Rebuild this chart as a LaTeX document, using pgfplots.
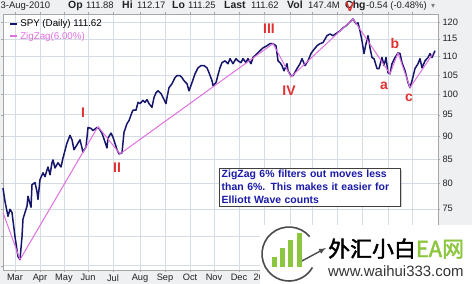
\documentclass[border=0pt]{standalone}
\usepackage{pgfplots}
\pgfplotsset{compat=1.18}
\usepackage{fontspec}
\setmainfont{Liberation Sans}
\newfontfamily\dejavu{DejaVu Sans}
\newfontfamily\cjk[AutoFakeBold=2]{Noto Sans CJK SC}
\usetikzlibrary{shadows}
\definecolor{price}{HTML}{15156A}
\definecolor{zz}{HTML}{E070E0}
\definecolor{wave}{HTML}{E03030}
\definecolor{gridc}{HTML}{D5DCE4}
\definecolor{bgc}{HTML}{EEF0F2}
\definecolor{note}{HTML}{1A1AA8}
\definecolor{wmgreen}{HTML}{8CC63F}
\definecolor{txt}{HTML}{222222}

\pgfplotstableread{
x y
3 79.0
5 76.4
8 73.6
10 74.9
12 74.3
15 69.9
18 66.5
20 66.0
22 69.9
23 73.1
27 75.5
28 77.4
31 75.3
32 79.7
35 80.1
37 78.3
38 76.8
40 80.7
43 82.1
45 81.3
47 82.7
48 83.3
50 81.7
52 84.2
53 84.8
55 83.1
58 84.2
61 83.3
63 85.2
67 88.5
70 90.2
72 89.2
74 87.0
77 88.1
80 89.2
83 86.5
86 87.6
88 92.0
91 91.8
93 91.3
97 92.0
99 91.8
102 90.7
105 88.7
107 87.4
108 89.6
111 90.7
113 89.8
117 87.0
119 86.1
122 86.3
124 90.9
127 92.9
129 93.6
132 95.6
133 96.1
136 96.1
138 98.0
140 97.7
143 98.5
145 98.0
147 98.7
149 97.7
152 96.8
154 99.2
156 100.4
158 100.9
161 100.2
163 99.2
166 97.7
167 99.2
169 101.7
172 102.7
175 104.3
177 104.8
180 104.8
182 104.3
184 103.5
187 102.7
189 100.9
192 103.0
195 105.3
198 106.9
201 107.5
204 107.5
207 106.9
209 105.6
212 103.5
213 102.2
216 103.0
218 105.0
220 106.9
222 108.3
225 108.8
228 108.0
230 109.4
233 108.0
236 109.4
238 108.8
241 108.3
243 109.4
246 108.3
248 109.4
251 108.0
253 109.7
257 110.8
260 111.6
263 112.4
267 113.0
270 113.6
273 113.6
276 113.0
278 108.8
280 108.3
282 107.5
284 106.1
287 108.0
288 106.1
291 104.8
293 104.8
297 106.7
300 108.0
302 109.4
305 107.5
308 108.8
311 110.8
313 111.6
317 113.0
320 113.6
323 113.9
327 115.9
330 116.4
333 115.9
337 116.7
340 117.3
343 118.2
346 118.8
348 119.4
351 120.3
353 120.9
356 119.4
358 119.7
360 117.3
362 114.4
364 110.8
366 113.6
368 115.9
369 114.4
370 112.4
372 109.7
374 109.4
377 106.7
379 106.7
382 109.7
384 107.5
386 109.7
388 105.6
390 105.3
392 108.0
395 109.7
398 111.0
400 110.8
402 108.3
405 106.1
408 103.0
410 101.7
412 103.5
415 106.7
418 108.0
420 109.4
422 106.9
425 108.8
428 109.7
430 110.8
432 109.7
435 111.6
}\pricetable

\pgfplotstableread{
x y
3 74.3
20 66.0
98 92.2
120 86.1
273 113.6
291 104.5
353 120.9
390 105.3
398 111.0
410 101.7
433 110.8
}\zztable

\tikzset{wavelbl/.style={text=wave, font=\bfseries\fontsize{14}{14}\selectfont}}

\begin{document}
\begin{tikzpicture}
\fill[bgc] (0,0) rectangle (472bp,284bp);
\useasboundingbox (0,0) rectangle (472bp,284bp);
\begin{axis}[
  at={(3bp,14bp)}, anchor=south west,
  scale only axis, width=435bp, height=256bp,
  xmin=3, xmax=438, ymode=log, ymin=64.3, ymax=122.4,
  axis background/.style={fill=white},
  axis line style={draw=gray!70, line width=0.5pt},
  grid=major, major grid style={gridc, line width=0.5pt},
  xtick={15,40,64,88,113,140,165,190,214,239,264,290,312,337,362,388,412},
  xticklabels={Mar,Apr,May,Jun,Jul,Aug,Sep,Oct,Nov,Dec,2010,,,,,,},
  ytick={65,70,75,80,85,90,95,100,105,110,115,120},
  yticklabels={,,75,80,85,90,95,100,105,110,115,120},
  yticklabel pos=right,
  tick align=outside, major tick length=2bp,
  tick style={draw=gray!70},
  minor tick num=0,
  ticklabel style={font=\fontsize{9.3}{10}\selectfont, text=txt},
  yticklabel style={xshift=-1bp},
  xticklabel style={yshift=1bp},
  clip=false,
  legend style={at={(0.008,0.995)}, anchor=north west, draw=none, fill=none,
     font=\fontsize{9.8}{10}\selectfont},
  legend cell align=left,
  legend image code/.code={\draw[#1, line width=1.6pt] (0bp,0bp) -- (7bp,0bp);},
]
\addplot[price, line width=1.5pt, line join=round] table[x=x,y=y] {\pricetable};
\addlegendentry{SPY (Daily) 111.62}
\addplot[zz, line width=1pt] table[x=x,y=y] {\zztable};
\addlegendentry{\textcolor{zz}{ZigZag(6.00\%)}}

\node[wavelbl] at (axis cs:83,95.4) {I};
\node[wavelbl] at (axis cs:117,83.1) {II};
\node[wavelbl] at (axis cs:269,117.9) {III};
\node[wavelbl] at (axis cs:289,100.9) {IV};
\node[wavelbl] at (axis cs:384,102.2) {a};
\node[wavelbl] at (axis cs:395,113.6) {b};
\node[wavelbl] at (axis cs:409,99.2) {c};

\node[anchor=north west, draw=black!75, fill=white, text=note,
  font=\bfseries\fontsize{10.5}{13}\selectfont, align=left,
  text width=176bp, inner xsep=2.5bp, inner ysep=2bp,
  drop shadow={shadow xshift=1.5bp, shadow yshift=-1.5bp, opacity=0.35}]
  at (axis cs:219,83.1) {ZigZag 6\% filters out moves less\\than 6\%. This makes it easier for\\Elliott Wave counts};
\end{axis}

% header
\tikzset{hdr/.style={anchor=base west, inner sep=0pt, text=txt, font=\fontsize{9.5}{10}\selectfont},
         hdrb/.style={anchor=base west, inner sep=0pt, text=txt, font=\bfseries\fontsize{10.5}{11}\selectfont}}
\node[hdr] at (0.5bp,275.5bp) {3-Aug-2010};
\node[hdrb] at (68bp,275.5bp) {Op};
\node[hdr] at (86bp,275.5bp) {111.88};
\node[hdrb] at (122bp,275.5bp) {Hi};
\node[hdr] at (137bp,275.5bp) {112.17};
\node[hdrb] at (172bp,275.5bp) {Lo};
\node[hdr] at (188bp,275.5bp) {111.25};
\node[hdrb] at (224bp,275.5bp) {Last};
\node[hdr] at (251bp,275.5bp) {111.62};
\node[hdrb] at (287bp,275.5bp) {Vol};
\node[hdr] at (308bp,275.5bp) {147.4M};
\node[hdrb] at (345bp,275.5bp) {Chg};
\node[hdr] at (366bp,275.5bp) {-0.54 (-0.48\%)};
\node[anchor=base west, inner sep=0pt, font=\dejavu\fontsize{8}{8}\selectfont, text=gray] at (431bp,275.5bp) {▾};
\node[text=wave, font=\bfseries\fontsize{13}{13}\selectfont] at (350bp,277bp) {V};

% watermark
\fill[white] (260bp,0) rectangle (472bp,59bp);
\draw[black!70, line width=1.6bp] (289bp,30bp) ++(40:27bp) arc[start angle=40, end angle=330, radius=27bp];
\draw[black!70, line width=1.4bp, -latex] (300bp,22bp) -- (326bp,36bp);
\fill[wmgreen] (272bp,17bp) rectangle (277bp,27bp);
\fill[wmgreen] (280bp,17bp) rectangle (285bp,36bp);
\fill[wmgreen] (288bp,17bp) rectangle (293bp,44bp);
\fill[wmgreen] (297bp,17bp) rectangle (302bp,51bp);
\node[anchor=base west, inner sep=0pt, font=\cjk\bfseries\fontsize{22}{22}\selectfont] at (328bp,27bp) {外汇小白\textcolor{wmgreen}{EA网}};
\node[anchor=base west, inner sep=0pt, text=black!80, font=\fontsize{15}{15}\selectfont] at (328bp,8bp) {www.waihui333.com};
\end{tikzpicture}
\end{document}
